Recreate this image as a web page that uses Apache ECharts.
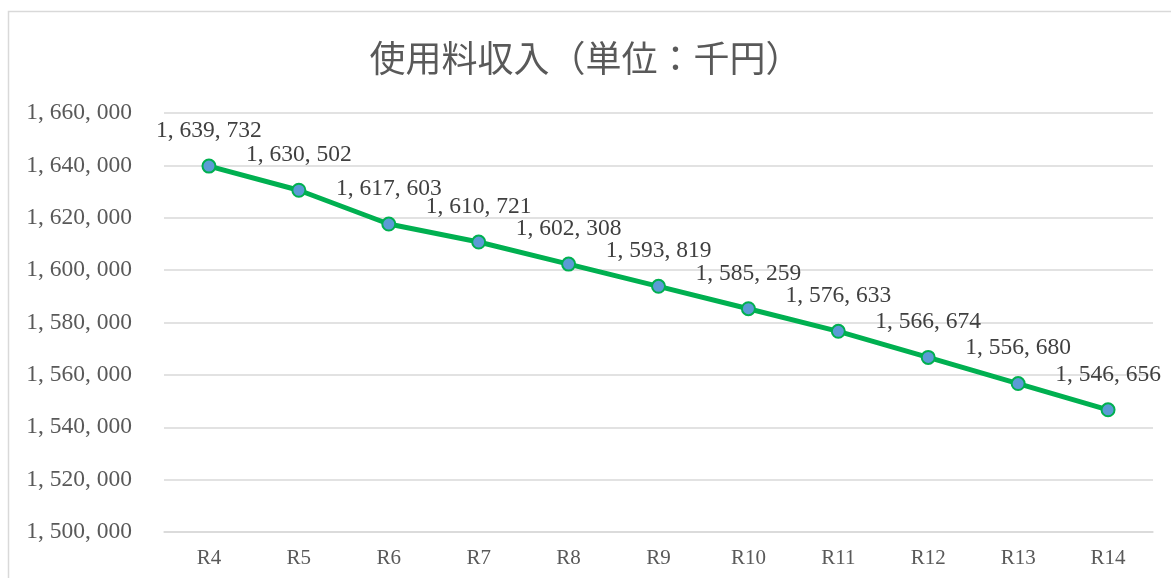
<!DOCTYPE html>
<html>
<head>
<meta charset="utf-8">
<script src="https://cdn.jsdelivr.net/npm/echarts@6/dist/echarts.min.js"></script>
<style>
  html, body { margin: 0; padding: 0; background: #fff; }
  #chart { width: 1171px; height: 578px; }
</style>
</head>
<body>
<div id="chart"></div>
<script>
// 使用料収入（単位：千円）
const years = ['R4', 'R5', 'R6', 'R7', 'R8', 'R9', 'R10', 'R11', 'R12', 'R13', 'R14'];
const revenue = [1639732, 1630502, 1617603, 1610721, 1602308, 1593819, 1585259, 1576633, 1566674, 1556680, 1546656];
const yMin = 1500000;
const yMax = 1660000;
const yStep = 20000;

const numFont = '"Liberation Serif", "Noto Sans CJK JP", serif';

// wide comma look of the original font
function fmt(v) {
    return Number(v).toLocaleString('en-US').replace(/,/g, ', ');
}

const chart = echarts.init(document.getElementById('chart'));

chart.setOption({
    animation: false,
    title: {
        text: '使用料収入（単位：千円）',
        left: 'center',
        top: 35,
        textStyle: {
            fontFamily: '"Noto Sans CJK JP", sans-serif',
            fontSize: 36,
            fontWeight: 'normal',
            color: '#595959'
        }
    },
    graphic: [{
        type: 'rect',
        shape: { x: 8.5, y: 11.5, width: 1200, height: 600 },
        style: { fill: 'none', stroke: '#d9d9d9', lineWidth: 1.5 },
        silent: true
    }],
    grid: { left: 164, right: 18, top: 113, bottom: 46 },
    xAxis: {
        type: 'category',
        data: years,
        axisLine: { lineStyle: { color: '#d9d9d9', width: 1.5 } },
        axisTick: { show: false },
        axisLabel: {
            margin: 16,
            fontFamily: numFont,
            fontSize: 21,
            color: '#595959'
        }
    },
    yAxis: {
        type: 'value',
        min: yMin,
        max: yMax,
        interval: yStep,
        axisLine: { show: false },
        axisTick: { show: false },
        splitLine: { lineStyle: { color: '#d9d9d9', width: 1.5 } },
        axisLabel: {
            margin: 32,
            fontFamily: numFont,
            fontSize: 23.5,
            color: '#595959',
            formatter: fmt
        }
    },
    series: [{
        type: 'line',
        data: revenue,
        lineStyle: { color: '#00b050', width: 5 },
        symbol: 'circle',
        symbolSize: 13,
        itemStyle: { color: '#5b9bd5', borderColor: '#00b050', borderWidth: 2 },
        label: {
            show: true,
            position: 'top',
            distance: 16,
            fontFamily: numFont,
            fontSize: 23.5,
            color: '#404040',
            formatter: p => fmt(p.value)
        }
    }]
});
</script>
</body>
</html>
